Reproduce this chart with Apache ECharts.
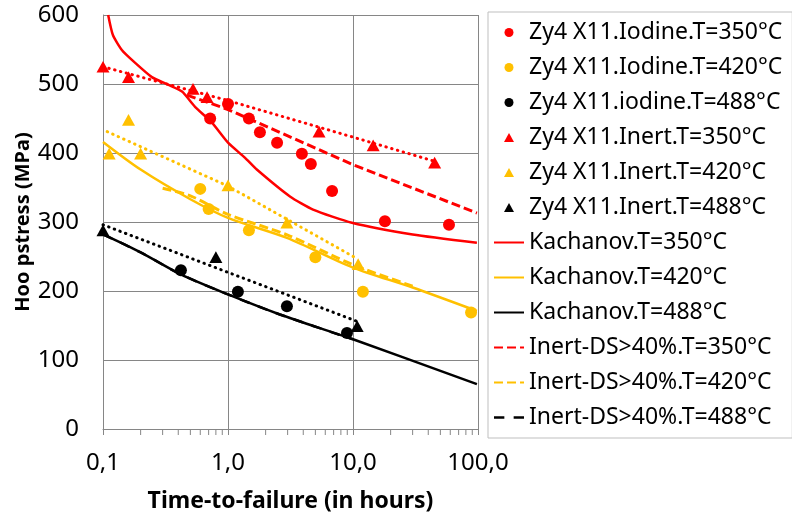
<!DOCTYPE html>
<html><head><meta charset="utf-8">
<script src="https://cdn.jsdelivr.net/npm/echarts@6/dist/echarts.min.js"></script>
<style>html,body{margin:0;padding:0;background:#fff}#c{width:792px;height:518px}</style>
</head><body><div id="c"></div>
<script>
// Measured data (x: hours, y: MPa)
const iodine350 = [[0.72,450],[1.0,471],[1.47,450],[1.8,430],[2.47,415],[3.9,399],[4.6,384],[6.8,345],[18,301],[58.6,296]];
const iodine420 = [[0.6,348],[0.7,319],[1.47,288],[5.0,249],[12,199],[88,169]];
const iodine488 = [[0.42,230],[1.2,199],[2.96,178],[8.95,139]];
const inert350 = [[0.1,525],[0.16,510],[0.525,493],[0.68,481],[5.35,431],[14.5,411],[45,386]];
const inert420 = [[0.112,399],[0.16,448],[0.2,399],[1.0,353],[2.96,299],[11,239]];
const inert488 = [[0.1,288],[0.8,249],[10.8,149]];

const kach350 = [[0.110,600],[0.120,571],[0.142,549],[0.180,531],[0.246,510],[0.331,499],[0.429,489],[0.545,467],[0.744,444],[1.0,415],[1.37,393],[1.7,376],[3.13,337],[4.79,318],[9.8,299],[30,282],[98,270]];
const kach420 = [[0.1,416],[0.2,376],[0.5,333],[1,306],[2.96,277],[10,234],[30,205],[98,171]];
const kach488 = [[0.1,282],[0.2,256],[0.42,224],[1,195],[2.6,166],[10,130],[98,65]];

const ds350 = [[0.47,484],[1,463],[10,383],[98,313]];
const ds420 = [[0.3,349],[0.5,338],[1,311],[3,281],[10,238],[30,207]];
const ds488 = [[0.1,282],[0.2,256],[0.42,224],[1,195],[2.6,166],[10,130]];

const trend350 = [[0.1,525],[1,476],[10,423],[45,388]];
const trend420 = [[0.108,431],[1,352],[11,246]];
const trend488 = [[0.1,296],[1,227],[10.8,156]];

const minorTickValues = [0.2,0.3,0.4,0.5,0.6,0.7,0.8,0.9,2,3,4,5,6,7,8,9,20,30,40,50,60,70,80,90];

const names = ['Zy4 X11.Iodine.T=350°C','Zy4 X11.Iodine.T=420°C','Zy4 X11.iodine.T=488°C',
  'Zy4 X11.Inert.T=350°C','Zy4 X11.Inert.T=420°C','Zy4 X11.Inert.T=488°C',
  'Kachanov.T=350°C','Kachanov.T=420°C','Kachanov.T=488°C',
  'Inert-DS>40%.T=350°C','Inert-DS>40%.T=420°C','Inert-DS>40%.T=488°C'];

const RED='#FF0000', ORG='#FFC000', BLK='#000000';
const FONT='Noto Sans';
const TRI='path://M5,0L10,9L0,9Z';
const LONGDASH='path://M0,0h10v2.5h-10zM19,0h10v2.5h-10z';

function scat(name, data, color, symbol){
  return {name, type:'scatter', data, symbol, symbolSize: symbol==='circle'?12:13,
    symbolKeepAspect:true, itemStyle:{color, opacity:1}, z:5};
}
function line(name, data, color, type, width, smooth){
  return {name, type:'line', data, symbol:'none', smooth: smooth||0, z:3,
    lineStyle:{color, width: width||2.5, type, cap:'butt'}, itemStyle:{color}};
}
function dotted(data, color){
  return {type:'line', data, symbol:'none', z:2, silent:true,
    lineStyle:{color, width:3, type:[0.5,5.5], cap:'round'}};
}

const legendData = names.map((n,i) => {
  if (i < 3) return {name:n, icon:'circle'};
  if (i < 6) return {name:n, icon:TRI};
  if (i === 11) return {name:n, icon:LONGDASH, itemStyle:{color:BLK, opacity:1}};
  return {name:n, itemStyle:{opacity:0}};
});

const chart = echarts.init(document.getElementById('c'));
chart.setOption({
  animation:false,
  textStyle:{fontFamily:FONT},
  grid:{left:103, right:314, top:15, bottom:88},
  xAxis:{type:'log', logBase:10, min:0.1, max:100,
    name:'Time-to-failure (in hours)', nameLocation:'middle', nameGap:61,
    nameTextStyle:{fontFamily:FONT, fontSize:23, fontWeight:'bold', color:'#000'},
    axisLine:{lineStyle:{color:'#868686'}},
    axisTick:{show:true, length:6, lineStyle:{color:'#868686'}},
    splitLine:{show:true, lineStyle:{color:'#868686'}},
    axisLabel:{fontFamily:FONT, fontSize:24, color:'#000', margin:22,
      formatter: v => v.toFixed(1).replace('.', ',')}},
  yAxis:{type:'value', min:0, max:600, interval:100,
    name:'Hoo pstress (MPa)', nameLocation:'middle', nameGap:70,
    nameTextStyle:{fontFamily:FONT, fontSize:20, fontWeight:'bold', color:'#000'},
    axisLine:{show:true, lineStyle:{color:'#868686'}},
    axisTick:{show:false},
    splitLine:{show:true, lineStyle:{color:'#868686'}},
    axisLabel:{fontFamily:FONT, fontSize:24, color:'#000', margin:24}},
  legend:{orient:'vertical', left:488, top:12, padding:[9,10,9,5],
    borderColor:'#bfbfbf', borderWidth:1, itemWidth:30, itemHeight:9, itemGap:12,
    symbolKeepAspect:true,
    data:legendData, textStyle:{fontFamily:FONT, fontSize:23, color:'#000', lineHeight:20}},
  series:[
    scat(names[0], iodine350, RED, 'circle'),
    scat(names[1], iodine420, ORG, 'circle'),
    scat(names[2], iodine488, BLK, 'circle'),
    scat(names[3], inert350, RED, TRI),
    scat(names[4], inert420, ORG, TRI),
    scat(names[5], inert488, BLK, TRI),
    line(names[6], kach350, RED, 'solid', 2.5, 0.2),
    line(names[7], kach420, ORG, 'solid', 2.5, 0.3),
    line(names[8], kach488, BLK, 'solid', 2.5, 0.3),
    line(names[9], ds350, RED, [9,4], 3),
    line(names[10], ds420, ORG, [9,4], 3, 0.3),
    line(names[11], ds488, BLK, [10,9], 2.5, 0.3),
    dotted(trend350, RED),
    dotted(trend420, ORG),
    dotted(trend488, BLK),
    {type:'custom', silent:true, clip:false, z:1,
      data: minorTickValues.map(v => [v, 0]),
      renderItem:(params, api) => {
        const p = api.coord([api.value(0), api.value(1)]);
        return {type:'line', shape:{x1:p[0], y1:p[1], x2:p[0], y2:p[1]+6},
          style:{stroke:'#868686', lineWidth:1}};
      }}
  ]
});
</script></body></html>
